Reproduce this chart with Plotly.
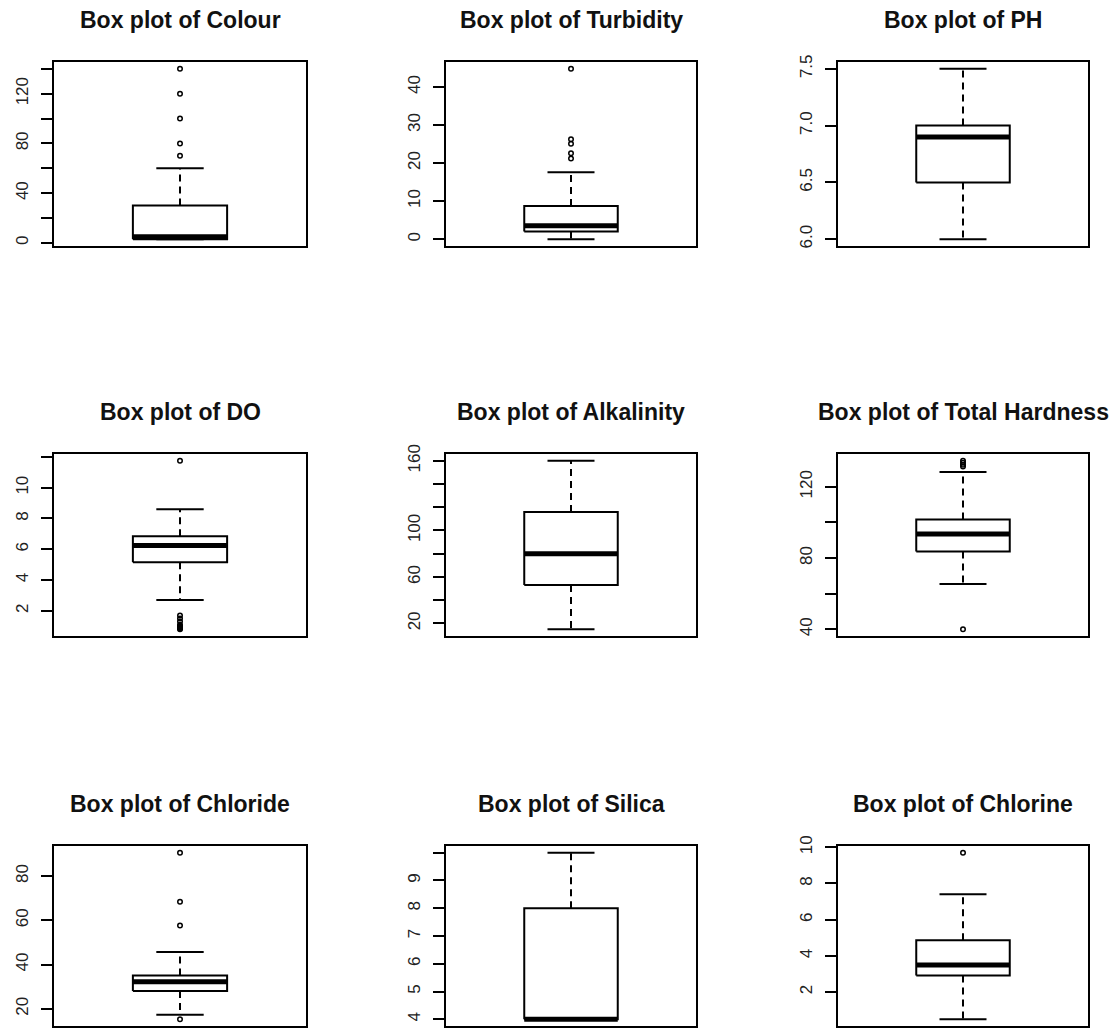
import plotly.graph_objects as go

# Water-quality parameters, one box plot each (five-number summaries + outliers)
PARAMETERS = ["Colour", "Turbidity", "PH",
              "DO", "Alkalinity", "Total Hardness",
              "Chloride", "Silica", "Chlorine"]

LOWER_WHISKER = [3, 0, 6.0, 2.7, 15, 65.4, 17.3, 4, 0.5]
Q1 = [3, 2, 6.5, 5.15, 53, 83.6, 28, 4, 2.92]
MEDIAN = [5, 3.5, 6.9, 6.25, 80, 93.5, 32.2, 4, 3.5]
Q3 = [30, 8.7, 7.0, 6.85, 116, 101.6, 35, 8, 4.86]
UPPER_WHISKER = [60, 17.6, 7.5, 8.6, 160, 128.3, 45.7, 10, 7.4]

OUTLIERS = [
    [70, 80, 100, 120, 140],
    [21.2, 22.6, 25.1, 26.3, 44.8],
    [],
    [0.8, 0.85, 0.9, 0.95, 1.0, 1.1, 1.3, 1.5, 1.7, 11.75],
    [],
    [40, 131.3, 132.4, 133.5, 134.6],
    [15.2, 57.7, 68.4, 90.6],
    [],
    [9.7],
]

TICK_VALUES = [
    [0, 20, 40, 60, 80, 100, 120, 140],
    [0, 10, 20, 30, 40],
    [6.0, 6.5, 7.0, 7.5],
    [2, 4, 6, 8, 10, 12],
    [20, 40, 60, 80, 100, 120, 140, 160],
    [40, 60, 80, 100, 120],
    [20, 40, 60, 80],
    [4, 5, 6, 7, 8, 9, 10],
    [2, 4, 6, 8, 10],
]

TICK_LABELS = [
    ["0", "", "40", "", "80", "", "120", ""],
    ["0", "10", "20", "30", "40"],
    ["6.0", "6.5", "7.0", "7.5"],
    ["2", "4", "6", "8", "10", ""],
    ["20", "", "60", "", "100", "", "", "160"],
    ["40", "", "80", "", "120"],
    ["20", "40", "60", "80"],
    ["4", "5", "6", "7", "8", "9", ""],
    ["2", "4", "6", "8", "10"],
]

# Page geometry (pixels) of the 3x3 panel grid
FIG_W, FIG_H = 1118, 1029
COL_PX = [(54, 306), (446, 696), (838, 1088)]
ROW_PX = [(62, 246), (454, 636), (846, 1026)]
BOX_HALF = 0.187
CAP_HALF = 0.094

TITLE_FONT = dict(family="Liberation Sans, Arial, sans-serif", size=23, color="#111111")
TICK_FONT = dict(family="Liberation Sans, Arial, sans-serif", size=17, color="#222222")

fig = go.Figure()
layout = {}

for i, name in enumerate(PARAMETERS):
    r, c = divmod(i, 3)
    n = "" if i == 0 else str(i + 1)
    xa, ya = "x" + n, "y" + n
    lo, q1, med, q3, hi = LOWER_WHISKER[i], Q1[i], MEDIAN[i], Q3[i], UPPER_WHISKER[i]
    outs = OUTLIERS[i]

    # dashed whiskers
    fig.add_trace(go.Scatter(
        x=[0, 0, None, 0, 0], y=[q3, hi, None, q1, lo], mode="lines",
        line=dict(color="black", width=2, dash="7px,5px"),
        xaxis=xa, yaxis=ya, hoverinfo="skip", showlegend=False))
    # box outline and staples
    fig.add_trace(go.Scatter(
        x=[-BOX_HALF, BOX_HALF, BOX_HALF, -BOX_HALF, -BOX_HALF, None,
           -CAP_HALF, CAP_HALF, None, -CAP_HALF, CAP_HALF],
        y=[q1, q1, q3, q3, q1, None, hi, hi, None, lo, lo], mode="lines",
        line=dict(color="black", width=2),
        xaxis=xa, yaxis=ya, hoverinfo="skip", showlegend=False))
    # median bar
    fig.add_trace(go.Scatter(
        x=[-BOX_HALF, BOX_HALF], y=[med, med], mode="lines",
        line=dict(color="black", width=5),
        xaxis=xa, yaxis=ya, hoverinfo="skip", showlegend=False))
    # outlying points
    if outs:
        fig.add_trace(go.Scatter(
            x=[0] * len(outs), y=outs, mode="markers",
            marker=dict(symbol="circle-open", size=4.5, color="black",
                        line=dict(width=1.5, color="black")),
            xaxis=xa, yaxis=ya, hoverinfo="skip", showlegend=False))

    # y range: data extent padded by 4% on each side
    values = [lo, q1, med, q3, hi] + outs
    vmin, vmax = min(values), max(values)
    pad = 0.04 * (vmax - vmin)

    x0, x1 = COL_PX[c]
    y0, y1 = ROW_PX[r]
    layout["xaxis" + n] = dict(
        domain=[x0 / FIG_W, x1 / FIG_W], range=[-0.5, 0.5], anchor=ya,
        automargin=False,
        showticklabels=False, ticks="", showgrid=False, zeroline=False,
        showline=True, mirror=True, linecolor="black", linewidth=2, fixedrange=True)
    layout["yaxis" + n] = dict(
        domain=[1 - y1 / FIG_H, 1 - y0 / FIG_H], range=[vmin - pad, vmax + pad],
        anchor=xa, automargin=False,
        tickmode="array", tickvals=TICK_VALUES[i], ticktext=TICK_LABELS[i],
        tickangle=-90, ticks="outside", ticklen=11, tickwidth=2, tickcolor="black",
        tickfont=TICK_FONT, ticklabelstandoff=6,
        showgrid=False, zeroline=False, showline=True, mirror=True,
        linecolor="black", linewidth=2, fixedrange=True)

annotations = []
for i, name in enumerate(PARAMETERS):
    n = "" if i == 0 else str(i + 1)
    annotations.append(dict(
        text="<b>Box plot of %s</b>" % name, showarrow=False,
        xref="x%s domain" % n, x=0.5, xanchor="center",
        yref="y%s domain" % n, y=1, yanchor="middle", yshift=42,
        font=TITLE_FONT))

fig.update_layout(
    width=FIG_W, height=FIG_H, margin=dict(l=0, r=0, t=0, b=0),
    paper_bgcolor="white", plot_bgcolor="white",
    showlegend=False, annotations=annotations, **layout)

fig.write_html("out.html", config={"displayModeBar": False})
